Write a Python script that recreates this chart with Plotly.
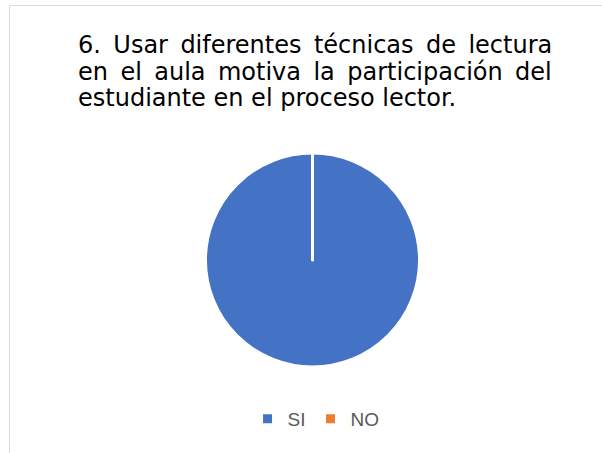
import plotly.graph_objects as go

W, H = 602, 453

labels = ["SI", "NO"]
values = [100, 0]
colors = ["#4472C4", "#ED7D31"]

# thin spaces widen the gaps so the first two lines come out justified
title_lines = [
    "6. \u2009Usar \u2009diferentes \u2009técnicas \u2009de \u2009lectura",
    "en \u2009el \u2009aula \u2009motiva \u2009la \u2009participación \u2009del",
    "estudiante en el proceso lector.",
]


def px(x):
    return x / W


def py(y):
    return 1 - y / H


fig = go.Figure(go.Pie(
    labels=labels,
    values=values,
    sort=False,
    direction="clockwise",
    rotation=0,
    textinfo="none",
    hoverinfo="label+value+percent",
    marker=dict(colors=colors, line=dict(color="white", width=3)),
    domain=dict(x=[px(205.5), px(419.5)], y=[py(367), py(153)]),
))

for i, line in enumerate(title_lines):
    fig.add_annotation(
        text=line, x=px(76), y=py(45.5 + 26 * i),
        xref="paper", yref="paper", xanchor="left", yanchor="middle",
        showarrow=False,
        font=dict(family="DejaVu Sans", size=24, color="#000000"),
    )

# chart area border (only top and left edges are visible in the crop)
fig.add_shape(
    type="rect", xref="paper", yref="paper",
    x0=px(9.5), y0=-0.05, x1=1.05, y1=py(5.5),
    line=dict(color="#D9D9D9", width=1), layer="below",
)

fig.update_layout(
    width=W, height=H,
    margin=dict(l=0, r=0, t=0, b=0),
    paper_bgcolor="white",
    plot_bgcolor="white",
    showlegend=True,
    legend=dict(
        orientation="h", x=0.525, xanchor="center", y=py(419), yanchor="middle",
        itemwidth=30, traceorder="normal",
        font=dict(family="Liberation Sans, Arial", size=19, color="#595959"),
    ),
)

fig.write_html(
    "out.html",
    config={"displayModeBar": False},
    post_script="document.body.style.margin='0';",
)
